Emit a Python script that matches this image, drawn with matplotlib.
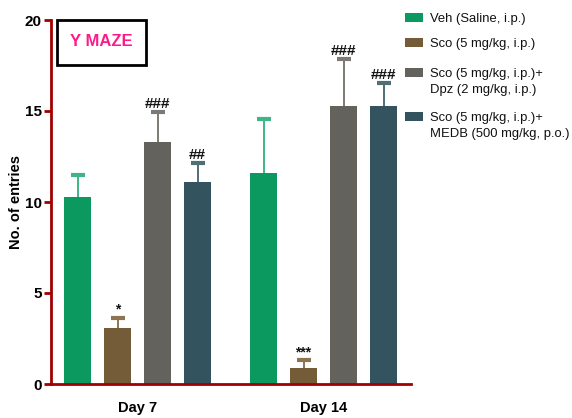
import matplotlib
matplotlib.use("Agg")
import matplotlib.pyplot as plt
from matplotlib.patches import Rectangle

plt.rcParams["font.family"] = ["Liberation Sans", "DejaVu Sans"]

days = ["Day 7", "Day 14"]
groups = [
    "Veh (Saline, i.p.)",
    "Sco (5 mg/kg, i.p.)",
    "Sco (5 mg/kg, i.p.)+\nDpz (2 mg/kg, i.p.)",
    "Sco (5 mg/kg, i.p.)+\nMEDB (500 mg/kg, p.o.)",
]
day7_mean = [10.3, 3.1, 13.3, 11.1]
day7_sem = [1.2, 0.55, 1.65, 1.05]
day14_mean = [11.6, 0.9, 15.25, 15.25]
day14_sem = [2.95, 0.4, 2.6, 1.3]
day7_sig = ["", "*", "###", "##"]
day14_sig = ["", "***", "###", "###"]

bar_colors = ["#0c9960", "#735c37", "#64625c", "#33545e"]
err_colors = ["#3fb585", "#8c7550", "#7d7a74", "#4e6e78"]
axis_red = "#a20000"

fig = plt.figure(figsize=(5.72, 4.18), dpi=100)
ax = fig.add_axes([51 / 572, 34 / 418, 360 / 572, 364 / 418])

width = 0.675
group_start = [0.0, 4.65]
for start, means, sems, sigs in zip(group_start,
                                    [day7_mean, day14_mean],
                                    [day7_sem, day14_sem],
                                    [day7_sig, day14_sig]):
    for i, (m, s, sig) in enumerate(zip(means, sems, sigs)):
        x = start + i
        ax.bar(x, m, width=width, color=bar_colors[i], edgecolor="none", zorder=3)
        # symmetric bars; the lower half is hidden behind the bar
        ax.errorbar(x, m, yerr=s, fmt="none", ecolor=err_colors[i],
                    elinewidth=1.4, capsize=4.7, capthick=3, zorder=2)
        if sig:
            ax.annotate(sig, (x, m + s), xytext=(0, 0.5), textcoords="offset points",
                        ha="center", va="bottom", fontsize=11 if "#" in sig else 10,
                        fontweight="bold", color="#111111")

ax.set_xlim(-0.6625, 8.3375)
ax.set_ylim(0, 20)
ax.set_yticks([0, 5, 10, 15, 20])
ax.set_xticks([g + 1.5 for g in group_start])
ax.set_xticklabels(days, fontsize=10.5, fontweight="bold")
ax.tick_params(axis="x", length=0, pad=12)
ax.tick_params(axis="y", length=5, width=2, color=axis_red, pad=1.5, labelsize=11)
for lab in ax.get_yticklabels():
    lab.set_fontweight("bold")
for side in ["top", "right"]:
    ax.spines[side].set_visible(False)
for side in ["left", "bottom"]:
    ax.spines[side].set_color(axis_red)
    ax.spines[side].set_linewidth(2)
    ax.spines[side].set_zorder(4)
ax.set_ylabel("No. of entries", fontsize=10.5, fontweight="bold")
ax.yaxis.set_label_coords(-0.078, 0.5)

# title box
fig.patches.append(Rectangle((57 / 572, 1 - 65 / 418), 89 / 572, 45 / 418,
                             transform=fig.transFigure, facecolor="white",
                             edgecolor="black", linewidth=2, zorder=5))
fig.text(101 / 572, 1 - 42 / 418, "Y MAZE", color="#ff1a8c", fontsize=12,
         fontweight="bold", ha="center", va="center", zorder=6)

# legend drawn by hand so the swatch sits on the first text line
handle_tops = [13, 38, 68, 112]
for top, label, color in zip(handle_tops, groups, bar_colors):
    fig.patches.append(Rectangle((405 / 572, 1 - (top + 9) / 418), 18 / 572, 9 / 418,
                                 transform=fig.transFigure, facecolor=color,
                                 edgecolor="none"))
    fig.text(430 / 572, 1 - top / 418, label, fontsize=9.4, ha="left",
             va="top", linespacing=1.5, color="#111111")

fig.savefig("out.png", dpi=100)
